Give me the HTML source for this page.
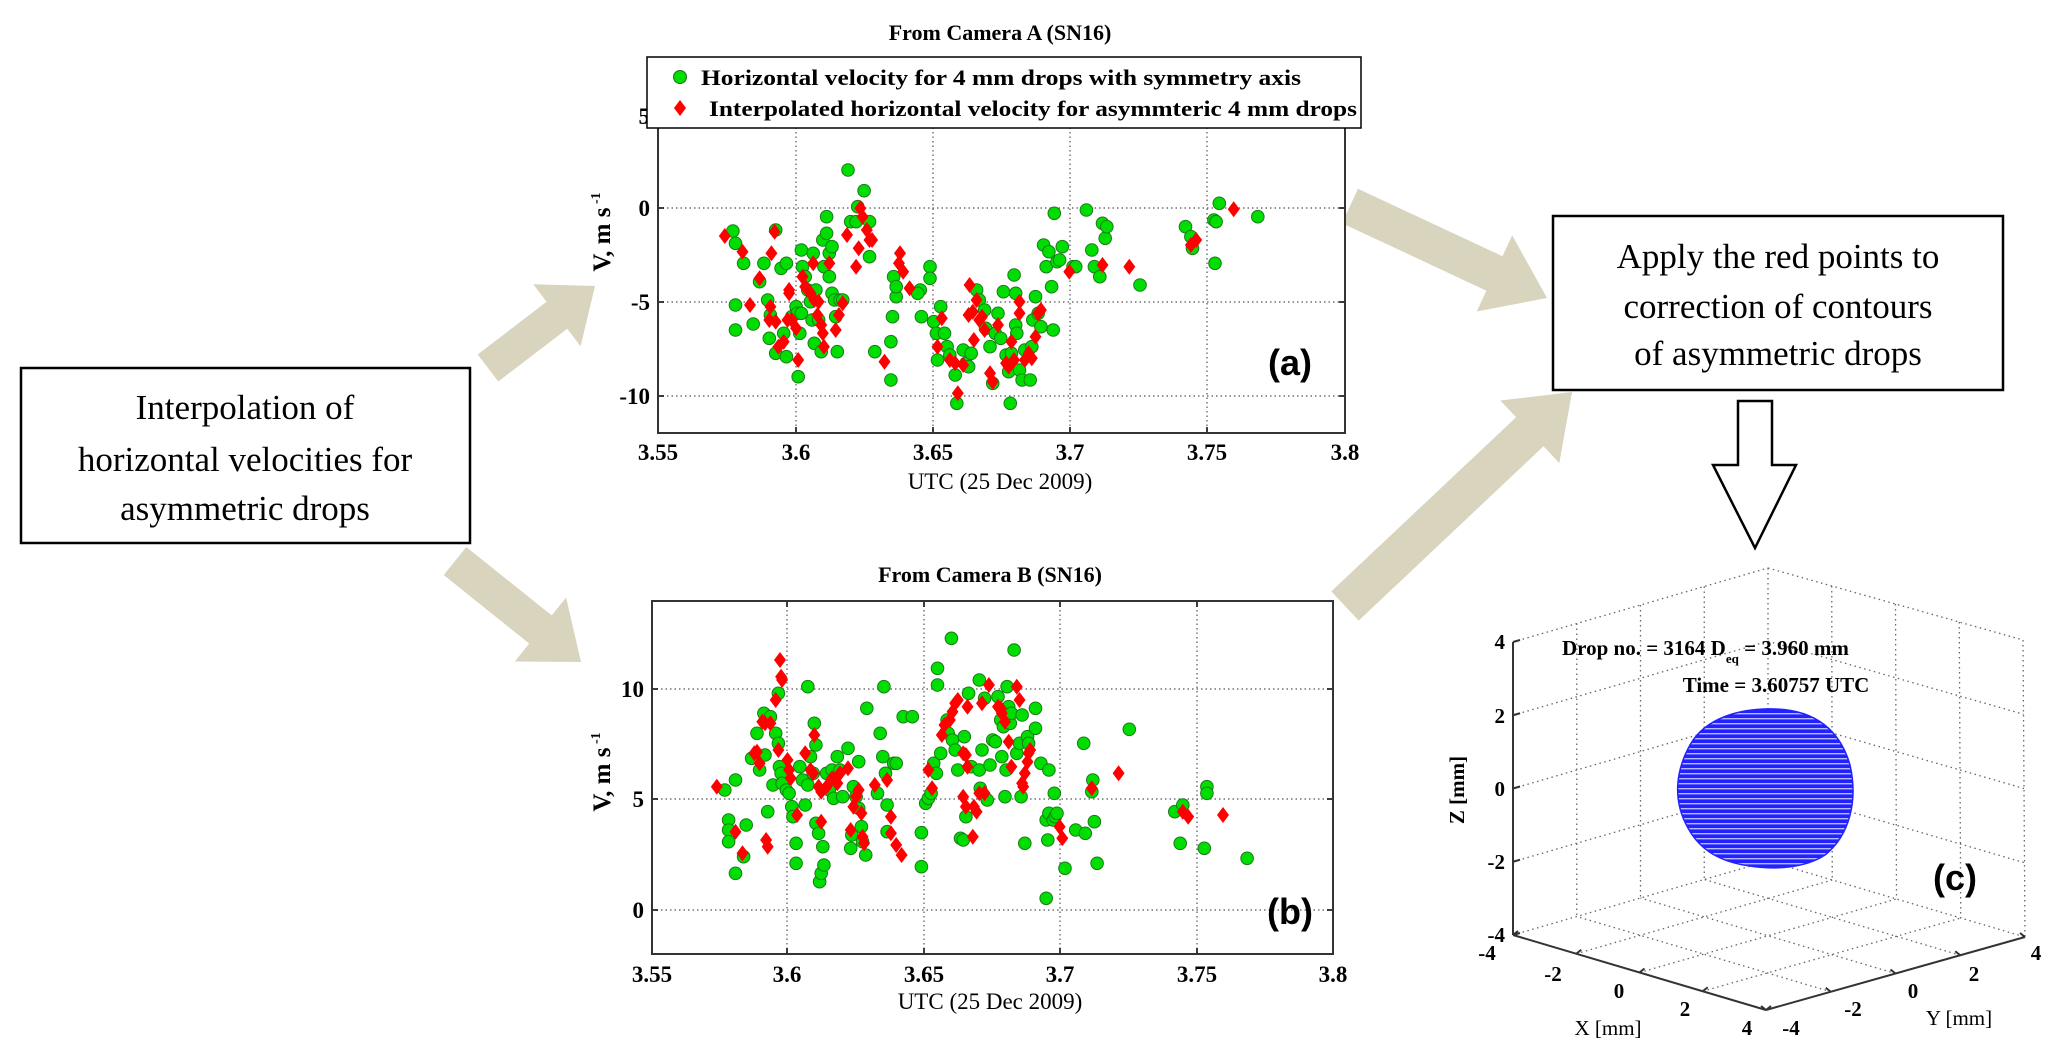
<!DOCTYPE html>
<html><head><meta charset="utf-8"><style>
html,body{margin:0;padding:0;background:#fff;}
svg{display:block;}
.t{font-family:"Liberation Serif",serif;}
</style></head><body>
<svg id="s" width="2067" height="1060" viewBox="0 0 2067 1060" xmlns="http://www.w3.org/2000/svg">
<defs>
<pattern id="stripe" width="6" height="5" patternUnits="userSpaceOnUse">
<rect width="6" height="5" fill="#2222ff"/><rect y="3" width="6" height="1.4" fill="#b8b8ff"/>
</pattern>
</defs>
<g id="arrows"></g>
<rect x="21" y="368" width="449" height="175" fill="#fff" stroke="#000" stroke-width="2.5"/>
<g class="t" font-size="35" text-anchor="middle" fill="#000">
<text x="245" y="419">Interpolation of</text>
<text x="245" y="471">horizontal velocities for</text>
<text x="245" y="520">asymmetric drops</text>
</g>
<rect x="1553" y="216" width="450" height="174" fill="#fff" stroke="#000" stroke-width="2.5"/>
<g class="t" font-size="35" text-anchor="middle" fill="#000">
<text x="1778" y="268">Apply the red points to</text>
<text x="1778" y="318">correction of contours</text>
<text x="1778" y="365">of asymmetric drops</text>
</g>
<polygon points="1738,401 1772,401 1772,465 1796,465 1755,548 1713,465 1738,465" fill="#fff" stroke="#000" stroke-width="2.5"/>

<g id="pa"></g>
<g class="t" font-weight="bold" fill="#000">
<text x="1000" y="40" font-size="22" text-anchor="middle">From  Camera A (SN16)</text>
<g font-size="23" text-anchor="middle">
<text x="658" y="460">3.55</text><text x="796" y="460">3.6</text><text x="933" y="460">3.65</text><text x="1070" y="460">3.7</text><text x="1207" y="460">3.75</text><text x="1345" y="460">3.8</text>
</g>
<text x="1000" y="489" font-size="23" font-weight="normal" text-anchor="middle">UTC (25 Dec 2009)</text>
<g font-size="23" text-anchor="end">
<text x="650" y="124">5</text><text x="650" y="216">0</text><text x="650" y="310">-5</text><text x="650" y="404">-10</text>
</g>
<text transform="translate(610,232) rotate(-90)" font-size="25" text-anchor="middle">V, m s<tspan dy="-10" font-size="14"> -1</tspan></text>
<text x="1290" y="375" font-family="Liberation Sans,sans-serif" font-size="36" text-anchor="middle">(a)</text>
</g>
<rect x="647" y="57" width="714" height="71" fill="#fff" stroke="#000" stroke-width="1.5"/>
<circle cx="680" cy="77" r="6.5" fill="#00dd00" stroke="#117711" stroke-width="1"/>
<polygon points="680,100 686,108 680,116 674,108" fill="#ff0000"/>
<g class="t" font-weight="bold" font-size="22" fill="#000">
<text x="701" y="85" textLength="600" lengthAdjust="spacingAndGlyphs">Horizontal velocity for 4 mm drops with symmetry axis</text>
<text x="709" y="116" textLength="648" lengthAdjust="spacingAndGlyphs">Interpolated horizontal velocity for asymmteric 4 mm drops</text>
</g>

<g id="pb"></g>
<g class="t" font-weight="bold" fill="#000">
<text x="990" y="582" font-size="22" text-anchor="middle">From  Camera B (SN16)</text>
<g font-size="23" text-anchor="middle">
<text x="652" y="982">3.55</text><text x="787" y="982">3.6</text><text x="924" y="982">3.65</text><text x="1060" y="982">3.7</text><text x="1197" y="982">3.75</text><text x="1333" y="982">3.8</text>
</g>
<text x="990" y="1009" font-size="23" font-weight="normal" text-anchor="middle">UTC (25 Dec 2009)</text>
<g font-size="23" text-anchor="end">
<text x="644" y="697">10</text><text x="644" y="807">5</text><text x="644" y="918">0</text>
</g>
<text transform="translate(610,772) rotate(-90)" font-size="25" text-anchor="middle">V, m s<tspan dy="-10" font-size="14"> -1</tspan></text>
<text x="1290" y="924" font-family="Liberation Sans,sans-serif" font-size="36" text-anchor="middle">(b)</text>
</g>

<g id="pc"></g>
<path d="M1690,745 C1705,718 1740,708 1775,709 C1815,710 1840,730 1850,765 C1858,800 1850,835 1825,855 C1805,868 1775,870 1750,866 C1720,862 1700,850 1688,828 C1672,800 1676,770 1690,745 Z" fill="url(#stripe)" stroke="#2222ff" stroke-width="1.5"/>
<g class="t" font-weight="bold" fill="#000">
<text x="1562" y="655" font-size="21">Drop no. = 3164   D<tspan dy="8" font-size="13">eq</tspan><tspan dy="-8">  =  3.960 mm</tspan></text>
<text x="1776" y="692" font-size="21" text-anchor="middle">Time = 3.60757 UTC</text>
<g font-size="21" text-anchor="end">
<text x="1505" y="649">4</text><text x="1505" y="723">2</text><text x="1505" y="796">0</text><text x="1505" y="869">-2</text><text x="1505" y="942">-4</text>
</g>
<g font-size="21" text-anchor="middle">
<text x="1487" y="960">-4</text><text x="1553" y="981">-2</text><text x="1619" y="998">0</text><text x="1685" y="1016">2</text><text x="1747" y="1035">4</text>
<text x="1791" y="1035">-4</text><text x="1853" y="1016">-2</text><text x="1913" y="998">0</text><text x="1974" y="981">2</text><text x="2036" y="960">4</text>
</g>
<text x="1608" y="1035" font-size="21" font-weight="normal" text-anchor="middle">X [mm]</text>
<text x="1959" y="1025" font-size="21" font-weight="normal" text-anchor="middle">Y [mm]</text>
<text transform="translate(1464,790) rotate(-90)" font-size="21" text-anchor="middle">Z [mm]</text>
<text x="1955" y="890" font-family="Liberation Sans,sans-serif" font-size="36" text-anchor="middle">(c)</text>
</g>
</svg>
<script>
var NS="http://www.w3.org/2000/svg";
function el(p,n,a){var e=document.createElementNS(NS,n);for(var k in a)e.setAttribute(k,a[k]);p.appendChild(e);return e;}
var ag=document.getElementById("arrows");
function arrow(tx,ty,hx,hy,sw,hw,hl){
 var dx=hx-tx,dy=hy-ty,L=Math.hypot(dx,dy),ux=dx/L,uy=dy/L,nx=-uy,ny=ux;
 var bx=hx-ux*hl,by=hy-uy*hl;
 var p=[[tx+nx*sw/2,ty+ny*sw/2],[bx+nx*sw/2,by+ny*sw/2],[bx+nx*hw/2,by+ny*hw/2],[hx,hy],[bx-nx*hw/2,by-ny*hw/2],[bx-nx*sw/2,by-ny*sw/2],[tx-nx*sw/2,ty-ny*sw/2]];
 el(ag,"polygon",{points:p.map(function(q){return q[0].toFixed(1)+","+q[1].toFixed(1)}).join(" "),fill:"#d9d4bd"});
}
arrow(488,368,595,286,34,78,48);
arrow(455,561,581,662,36,82,52);
arrow(1350,206,1547,298,38,84,58);
arrow(1345,606,1572,392,40,86,58);

function plot(g,L,R,T,B,xt,yt,gp,rp,x0,y0,fx){
 el(g,"rect",{x:L,y:T,width:R-L,height:B-T,fill:"#fff",stroke:"none"});
 xt.forEach(function(x){el(g,"line",{x1:x,y1:T,x2:x,y2:B,stroke:"#555","stroke-width":1.2,"stroke-dasharray":"1.5,3"});
  el(g,"line",{x1:x,y1:B,x2:x,y2:B-6,stroke:"#000","stroke-width":1.5});el(g,"line",{x1:x,y1:T,x2:x,y2:T+6,stroke:"#000","stroke-width":1.5});});
 yt.forEach(function(y){el(g,"line",{x1:L,y1:y,x2:R,y2:y,stroke:"#555","stroke-width":1.2,"stroke-dasharray":"1.5,3"});
  el(g,"line",{x1:L,y1:y,x2:L+6,y2:y,stroke:"#000","stroke-width":1.5});el(g,"line",{x1:R,y1:y,x2:R-6,y2:y,stroke:"#000","stroke-width":1.5});});
 el(g,"rect",{x:L,y:T,width:R-L,height:B-T,fill:"none",stroke:"#333","stroke-width":2});
 for(var i=0;i<gp.length;i+=2){el(g,"circle",{cx:(x0+gp[i]*fx).toFixed(1),cy:(y0+gp[i+1]/3).toFixed(1),r:6.3,fill:"#00dd00",stroke:"#1a7a1a","stroke-width":1});}
 for(var i=0;i<rp.length;i+=2){var x=x0+rp[i]*fx,y=y0+rp[i+1]/3;
  el(g,"polygon",{points:x.toFixed(1)+","+(y-8).toFixed(1)+" "+(x+6).toFixed(1)+","+y.toFixed(1)+" "+x.toFixed(1)+","+(y+8).toFixed(1)+" "+(x-6).toFixed(1)+","+y.toFixed(1),fill:"#ff0000"});}
}
var ga=[360,693,365,730,380,790,365,915,365,990,398,972,410,845,418,790,440,690,425,900,430,945,428,1015,440,1060,450,805,460,790,455,1000,460,1070,470,950,478,920,480,940,485,1000,482,1130,488,750,490,800,488,940,495,830,500,870,505,905,508,960,510,760,512,1030,515,870,520,960,525,1055,528,720,530,800,535,650,535,700,540,760,540,830,545,740,545,880,550,900,552,950,555,1055,560,900,565,900,575,510,580,665,590,665,593,620,605,572,615,665,615,770,625,1055,655,1025,658,950,660,830,665,890,665,860,655,1140,710,870,705,880,712,950,728,800,728,835,735,965,740,1000,742,1080,748,920,755,1000,760,1040,765,1065,775,1125,778,1210,790,1050,795,1090,800,1100,805,1060,815,870,820,900,830,930,832,985,840,1040,845,1150,850,1000,855,940,860,1015,865,875,870,1065,875,1115,878,1210,880,1060,885,825,888,880,888,975,890,1000,895,1110,900,1140,905,1050,915,1140,918,1040,920,960,925,890,930,940,935,980,940,735,945,800,950,755,955,860,958,990,960,640,965,785,970,780,975,740,995,800,1020,630,1030,750,1035,800,1045,830,1050,670,1055,715,1058,680,1120,855,1205,680,1215,710,1218,745,1258,660,1262,665,1260,790,1268,610,1340,650,1000,800];
var ra=[345,708,378,755,392,915,410,835,438,695,432,760,430,920,428,960,440,965,445,1040,455,1025,462,960,465,880,465,870,470,960,478,985,482,1080,490,830,495,860,500,870,505,880,510,790,512,900,518,945,520,905,525,975,528,1000,530,1040,540,790,552,990,558,945,565,910,573,705,590,800,595,745,598,625,602,650,610,690,615,720,620,720,643,1085,672,760,670,790,678,815,690,865,750,955,742,1040,765,1080,775,1090,780,1180,790,1095,800,945,802,855,808,935,810,1020,815,900,820,960,825,950,830,990,840,1120,845,1145,855,975,870,1090,875,1100,880,1025,885,1080,895,905,895,940,905,1080,912,1060,918,1075,925,1010,930,940,935,930,988,815,1050,795,1100,800,1215,735,1225,720,1295,628];
var gb=[345,750,352,840,352,870,352,905,365,720,365,1000,380,950,385,855,395,655,405,580,410,690,418,520,420,645,425,815,430,530,435,735,440,580,445,460,445,610,447,680,450,700,452,730,460,750,465,760,470,800,472,830,478,910,478,970,485,680,490,720,495,795,500,735,500,440,505,650,510,700,512,550,515,615,515,850,520,880,522,1025,525,1000,528,920,530,975,535,700,540,750,545,690,548,775,555,650,560,690,565,770,575,625,580,925,582,885,585,740,590,770,595,805,595,665,600,860,602,905,608,945,610,505,630,760,635,580,640,650,642,440,645,700,648,795,648,875,660,670,665,670,678,530,695,530,712,878,712,980,720,790,725,775,730,760,735,670,740,700,742,385,742,435,748,640,760,540,762,580,768,295,770,600,775,630,780,690,785,895,790,900,792,590,795,830,800,460,805,680,820,420,820,690,822,745,825,630,830,475,835,780,840,675,845,600,850,605,855,470,860,540,862,650,865,560,868,770,870,690,872,440,875,500,878,550,880,520,885,330,890,640,895,610,898,770,900,525,905,910,910,590,912,610,925,505,925,565,935,670,945,840,948,900,950,690,950,820,958,840,960,760,962,830,965,820,945,1075,980,985,1000,870,1015,610,1018,880,1030,755,1032,720,1035,845,1040,970,1100,568,1185,815,1195,910,1200,795,1240,925,1245,740,1245,760,1320,955];
var rb=[330,740,365,875,378,940,400,640,405,635,410,670,415,545,420,550,422,900,425,920,430,550,440,480,445,630,448,360,450,410,452,420,462,660,465,690,468,715,480,825,495,640,505,690,510,700,512,585,525,845,520,740,525,755,535,740,545,715,550,720,555,730,560,700,575,685,580,870,585,800,590,770,595,750,600,820,602,890,605,910,625,735,648,720,655,830,655,880,665,915,675,945,725,690,732,745,750,585,755,555,765,540,770,515,775,490,780,480,790,640,795,645,798,680,790,770,795,800,798,500,808,890,810,800,815,815,820,760,825,490,830,760,838,435,855,500,860,505,862,520,868,545,875,605,880,680,890,440,895,480,900,730,902,740,905,700,910,665,912,640,915,630,970,860,975,895,1030,745,1080,700,1200,815,1210,830,1275,825];
plot(document.getElementById("pa"),658,1345,114,433,[796,933,1070,1207],[208,302,396],ga,ra,540,0,0.5357);
plot(document.getElementById("pb"),652,1333,601,954,[787,924,1060,1197],[689,799,910],gb,rb,540,540,0.5357);

var pc=document.getElementById("pc");
var TB=[1768,568],LT=[1513,642],RT=[2023,640],BB=[1768,861],LB=[1513,935],RB=[2025,937],FB=[1766,1010];
function lerp(a,b,t){return [a[0]+(b[0]-a[0])*t,a[1]+(b[1]-a[1])*t];}
function dl(a,b){el(pc,"line",{x1:a[0],y1:a[1],x2:b[0],y2:b[1],stroke:"#666","stroke-width":1.3,"stroke-dasharray":"1.5,3.5"});}
function sl(a,b){el(pc,"line",{x1:a[0],y1:a[1],x2:b[0],y2:b[1],stroke:"#333","stroke-width":2});}
dl(LT,TB);dl(TB,RT);dl(TB,BB);dl(RT,RB);dl(LB,BB);dl(BB,RB);
[0.25,0.5,0.75].forEach(function(t){
 dl(lerp(LT,TB,t),lerp(LB,BB,t));
 dl(lerp(LT,LB,t),lerp(TB,BB,t));
 dl(lerp(TB,RT,t),lerp(BB,RB,t));
 dl(lerp(TB,BB,t),lerp(RT,RB,t));
 dl(lerp(LB,FB,t),lerp(BB,RB,t));
 dl(lerp(FB,RB,t),lerp(LB,BB,t));
});
sl(LT,LB);sl(LB,FB);sl(FB,RB);
[0,0.25,0.5,0.75,1].forEach(function(t){
 var p=lerp(LT,LB,t);sl(p,[p[0]+7,p[1]-2]);
 var q=lerp(LB,FB,t);sl(q,[q[0]+5,q[1]-4]);
 var r=lerp(FB,RB,t);sl(r,[r[0]-5,r[1]-4]);
});
</script>
</body></html>
